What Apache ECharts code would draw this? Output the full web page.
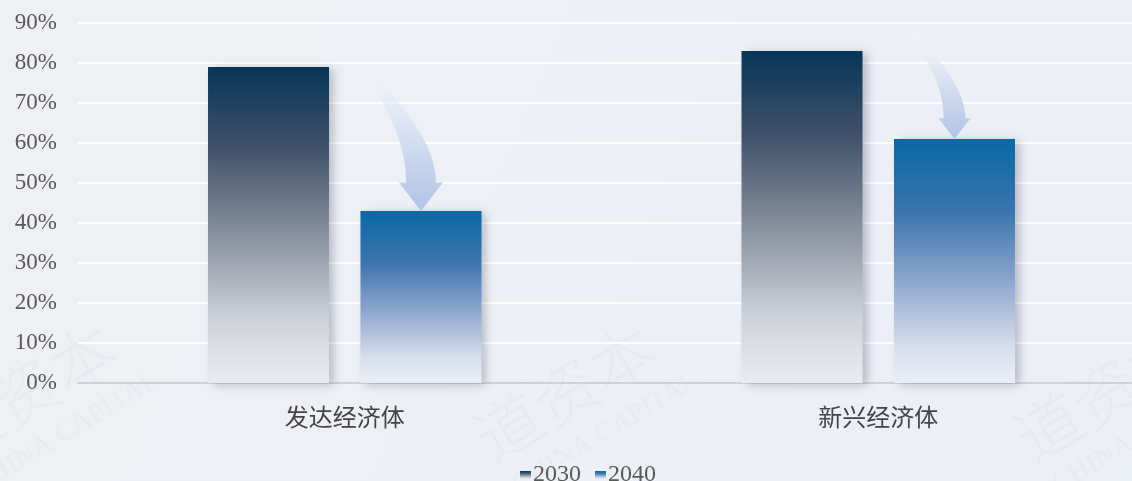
<!DOCTYPE html>
<html>
<head>
<meta charset="utf-8">
<title>发达经济体与新兴经济体</title>
<script src="https://cdn.jsdelivr.net/npm/echarts@6/dist/echarts.min.js"></script>
<style>
  html, body { margin: 0; padding: 0; background: #edf0f6; }
  #chart { width: 1132px; height: 481px; }
</style>
</head>
<body>
<div id="chart"></div>
<script>
// Categories and series values (percent)
const categories = ['发达经济体', '新兴经济体'];
const share2030 = [79, 83];
const share2040 = [43, 61];
const seriesNames = ['2030', '2040'];

// Layout constants
const BAR_W = 121;
const BAR_GAP = 0.26;
const BAR_OFFSET = (BAR_W + BAR_W * BAR_GAP) / 2;   // centre of second bar from category centre
const ARROW_RISE = [142, 104];                       // vertical reach of each arrow, px

const chart = echarts.init(document.getElementById('chart'), null, { renderer: 'canvas' });

function quad(p0, p1, p2, t) {
  const u = 1 - t;
  return [
    u * u * p0[0] + 2 * u * t * p1[0] + t * t * p2[0],
    u * u * p0[1] + 2 * u * t * p1[1] + t * t * p2[1]
  ];
}

// Curved arrow from the 2030 bar down to the top of the 2040 bar
function renderArrow(params, api) {
  const i = params.dataIndex;
  const c = api.coord([api.value(0), api.value(2)]);
  const tipX = c[0] + BAR_OFFSET;
  const tipY = c[1];
  const L = ARROW_RISE[i];
  const tailY = tipY - L;
  const tailX = tipX - 0.43 * L;
  const hh = 0.2 * L, hw = 0.155 * L, sw = 0.105 * L, tw = 0.055 * L;

  const lp0 = [tailX, tailY], lp1 = [tipX - sw, tailY + 0.42 * L], lp2 = [tipX - sw, tipY - hh];
  const rp0 = [tailX + tw, tailY], rp1 = [tipX + sw, tailY + 0.47 * L], rp2 = [tipX + sw, tipY - hh];
  const pts = [];
  const N = 24;
  for (let k = 0; k <= N; k++) pts.push(quad(lp0, lp1, lp2, k / N));
  pts.push([tipX - hw, tipY - hh]);
  pts.push([tipX, tipY]);
  pts.push([tipX + hw, tipY - hh]);
  for (let k = N; k >= 0; k--) pts.push(quad(rp0, rp1, rp2, k / N));

  return {
    type: 'polygon',
    shape: { points: pts },
    style: {
      fill: {
        type: 'linear', x: 0, y: 0, x2: 0, y2: 1,
        colorStops: [
          { offset: 0, color: 'rgba(240,244,251,0.25)' },
          { offset: 0.45, color: '#d6e0f1' },
          { offset: 1, color: '#b1c3e5' }
        ]
      }
    }
  };
}

// Faint diagonal watermark, repeated across the canvas
const watermark = [];
[-1, 0, 1, 2].forEach(function (k) {
  watermark.push({
    type: 'group',
    x: 25 + 540 * k,
    y: 392,
    rotation: 0.54,
    silent: true,
    children: [
      {
        type: 'text', x: 0, y: 0,
        style: {
          text: '道资本', fontSize: 66, fontFamily: 'Noto Sans CJK SC', fontWeight: 300,
          fill: 'rgba(120,132,155,0.045)', textAlign: 'center', textVerticalAlign: 'middle'
        }
      },
      {
        type: 'text', x: 14, y: 56,
        style: {
          text: 'CHINA CAPITAL', fontSize: 28, fontFamily: 'Liberation Serif',
          fill: 'rgba(120,132,155,0.045)', textAlign: 'center', textVerticalAlign: 'middle'
        }
      }
    ]
  });
});

const barShadow = {
  shadowBlur: 9,
  shadowColor: 'rgba(40,50,70,0.28)',
  shadowOffsetX: 5,
  shadowOffsetY: 2
};

const option = {
  animation: false,
  backgroundColor: {
    type: 'linear', x: 0, y: 0, x2: 1, y2: 1,
    colorStops: [
      { offset: 0, color: '#eff0f4' },
      { offset: 1, color: '#ebeff7' }
    ]
  },
  graphic: watermark,
  grid: { left: 78, top: 23, width: 1067, height: 360, outerBoundsMode: 'none', containLabel: false },
  legend: {
    data: seriesNames,
    left: 515,
    top: 458,
    icon: 'rect',
    itemWidth: 11,
    itemHeight: 8,
    itemGap: 14,
    textStyle: { fontFamily: 'Liberation Serif', fontSize: 24, color: '#595959', padding: [0, 0, 0, -3] },
    itemStyle: { shadowBlur: 0, shadowOffsetX: 0, shadowOffsetY: 0 }
  },
  xAxis: {
    type: 'category',
    data: categories,
    axisLine: { lineStyle: { color: '#cfd1d6', width: 2 } },
    axisTick: { show: false },
    axisLabel: { fontFamily: 'Noto Sans CJK SC', fontSize: 24, color: '#454545', margin: 22 }
  },
  yAxis: {
    type: 'value',
    min: 0,
    max: 90,
    interval: 10,
    axisLine: { show: false },
    axisTick: { show: false },
    axisLabel: { formatter: '{value}%', fontFamily: 'Liberation Serif', fontSize: 23, color: '#595959', margin: 21 },
    splitLine: { lineStyle: { color: '#ffffff', width: 2 } }
  },
  series: [
    {
      name: seriesNames[0],
      type: 'bar',
      data: share2030,
      barWidth: BAR_W,
      barGap: (BAR_GAP * 100) + '%',
      itemStyle: Object.assign({
        color: {
          type: 'linear', x: 0, y: 0, x2: 0, y2: 1,
          colorStops: [
            { offset: 0, color: '#073658' },
            { offset: 0.25, color: '#3f5069' },
            { offset: 0.55, color: '#8c95a2' },
            { offset: 0.8, color: '#ced2da' },
            { offset: 1, color: '#e9ecf2' }
          ]
        }
      }, barShadow)
    },
    {
      name: seriesNames[1],
      type: 'bar',
      data: share2040,
      barWidth: BAR_W,
      itemStyle: Object.assign({
        color: {
          type: 'linear', x: 0, y: 0, x2: 0, y2: 1,
          colorStops: [
            { offset: 0, color: '#0868a4' },
            { offset: 0.3, color: '#3c74ad' },
            { offset: 0.6, color: '#92aad0' },
            { offset: 0.85, color: '#d7deec' },
            { offset: 1, color: '#eaeef6' }
          ]
        }
      }, barShadow)
    },
    {
      name: 'arrows',
      type: 'custom',
      renderItem: renderArrow,
      data: categories.map(function (c, i) { return [i, share2030[i], share2040[i]]; }),
      z: 3,
      silent: true,
      tooltip: { show: false }
    }
  ]
};

chart.setOption(option);
</script>
</body>
</html>
